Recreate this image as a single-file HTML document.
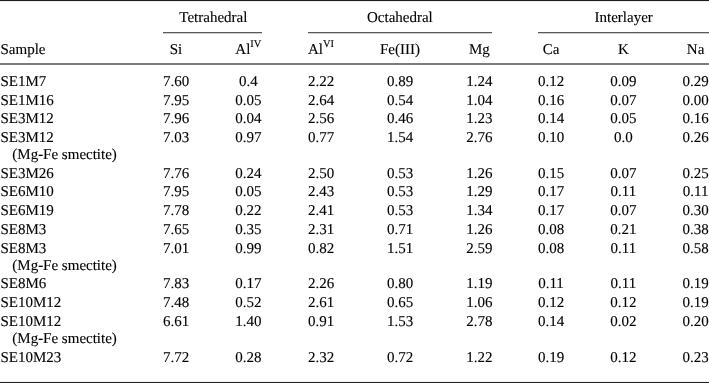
<!DOCTYPE html>
<html><head><meta charset="utf-8"><style>
html,body{margin:0;padding:0;background:#fff;}
body{width:709px;height:383px;position:relative;overflow:hidden;font-family:"Liberation Serif",serif;font-size:15px;color:#000;text-rendering:geometricPrecision;-webkit-text-stroke:0.12px #000;}
.t{position:absolute;height:0;line-height:0;white-space:nowrap;}
.t.c{width:200px;text-align:center;}
.t.r{width:200px;text-align:right;}
sup{font-size:10.5px;line-height:0;vertical-align:0;position:relative;top:-7px;}
.ln{position:absolute;}
#wrap{position:absolute;left:0;top:0;width:709px;height:383px;will-change:transform;}
</style></head><body><div id="wrap">
<div class="ln" style="left:0px;top:0px;width:709px;height:1px;background:#1c1c1c"></div><div class="ln" style="left:0px;top:1px;width:709px;height:1px;background:#f2f2f2"></div><div class="ln" style="left:163px;top:32px;width:99px;height:1px;background:#5a5a5a"></div><div class="ln" style="left:163px;top:33px;width:99px;height:1px;background:#cfcfcf"></div><div class="ln" style="left:308px;top:32px;width:184px;height:1px;background:#5a5a5a"></div><div class="ln" style="left:308px;top:33px;width:184px;height:1px;background:#cfcfcf"></div><div class="ln" style="left:538px;top:32px;width:171px;height:1px;background:#5a5a5a"></div><div class="ln" style="left:538px;top:33px;width:171px;height:1px;background:#cfcfcf"></div><div class="ln" style="left:0px;top:63px;width:709px;height:1px;background:#7c7c7c"></div><div class="ln" style="left:0px;top:64px;width:709px;height:1px;background:#7c7c7c"></div><div class="ln" style="left:0px;top:381px;width:709px;height:1px;background:#f2f2f2"></div><div class="ln" style="left:0px;top:382px;width:709px;height:1px;background:#222222"></div>
<div class="t" style="left:0.5px;top:82.00px;">SE1M7</div><div class="t c" style="left:76px;top:82.00px;">7.60</div><div class="t c" style="left:148.4px;top:82.00px;">0.4</div><div class="t c" style="left:221px;top:82.00px;">2.22</div><div class="t c" style="left:300px;top:82.00px;">0.89</div><div class="t c" style="left:379.3px;top:82.00px;">1.24</div><div class="t c" style="left:451px;top:82.00px;">0.12</div><div class="t c" style="left:523.4px;top:82.00px;">0.09</div><div class="t c" style="left:595.6px;top:82.00px;">0.29</div><div class="t" style="left:0.5px;top:100.50px;">SE1M16</div><div class="t c" style="left:76px;top:100.50px;">7.95</div><div class="t c" style="left:148.4px;top:100.50px;">0.05</div><div class="t c" style="left:221px;top:100.50px;">2.64</div><div class="t c" style="left:300px;top:100.50px;">0.54</div><div class="t c" style="left:379.3px;top:100.50px;">1.04</div><div class="t c" style="left:451px;top:100.50px;">0.16</div><div class="t c" style="left:523.4px;top:100.50px;">0.07</div><div class="t c" style="left:595.6px;top:100.50px;">0.00</div><div class="t" style="left:0.5px;top:119.20px;">SE3M12</div><div class="t c" style="left:76px;top:119.20px;">7.96</div><div class="t c" style="left:148.4px;top:119.20px;">0.04</div><div class="t c" style="left:221px;top:119.20px;">2.56</div><div class="t c" style="left:300px;top:119.20px;">0.46</div><div class="t c" style="left:379.3px;top:119.20px;">1.23</div><div class="t c" style="left:451px;top:119.20px;">0.14</div><div class="t c" style="left:523.4px;top:119.20px;">0.05</div><div class="t c" style="left:595.6px;top:119.20px;">0.16</div><div class="t" style="left:0.5px;top:138.20px;">SE3M12</div><div class="t c" style="left:76px;top:138.20px;">7.03</div><div class="t c" style="left:148.4px;top:138.20px;">0.97</div><div class="t c" style="left:221px;top:138.20px;">0.77</div><div class="t c" style="left:300px;top:138.20px;">1.54</div><div class="t c" style="left:379.3px;top:138.20px;">2.76</div><div class="t c" style="left:451px;top:138.20px;">0.10</div><div class="t c" style="left:523.4px;top:138.20px;">0.0</div><div class="t c" style="left:595.6px;top:138.20px;">0.26</div><div class="t" style="left:12.3px;top:155.00px;">(Mg-Fe smectite)</div><div class="t" style="left:0.5px;top:174.00px;">SE3M26</div><div class="t c" style="left:76px;top:174.00px;">7.76</div><div class="t c" style="left:148.4px;top:174.00px;">0.24</div><div class="t c" style="left:221px;top:174.00px;">2.50</div><div class="t c" style="left:300px;top:174.00px;">0.53</div><div class="t c" style="left:379.3px;top:174.00px;">1.26</div><div class="t c" style="left:451px;top:174.00px;">0.15</div><div class="t c" style="left:523.4px;top:174.00px;">0.07</div><div class="t c" style="left:595.6px;top:174.00px;">0.25</div><div class="t" style="left:0.5px;top:192.20px;">SE6M10</div><div class="t c" style="left:76px;top:192.20px;">7.95</div><div class="t c" style="left:148.4px;top:192.20px;">0.05</div><div class="t c" style="left:221px;top:192.20px;">2.43</div><div class="t c" style="left:300px;top:192.20px;">0.53</div><div class="t c" style="left:379.3px;top:192.20px;">1.29</div><div class="t c" style="left:451px;top:192.20px;">0.17</div><div class="t c" style="left:523.4px;top:192.20px;">0.11</div><div class="t c" style="left:595.6px;top:192.20px;">0.11</div><div class="t" style="left:0.5px;top:210.90px;">SE6M19</div><div class="t c" style="left:76px;top:210.90px;">7.78</div><div class="t c" style="left:148.4px;top:210.90px;">0.22</div><div class="t c" style="left:221px;top:210.90px;">2.41</div><div class="t c" style="left:300px;top:210.90px;">0.53</div><div class="t c" style="left:379.3px;top:210.90px;">1.34</div><div class="t c" style="left:451px;top:210.90px;">0.17</div><div class="t c" style="left:523.4px;top:210.90px;">0.07</div><div class="t c" style="left:595.6px;top:210.90px;">0.30</div><div class="t" style="left:0.5px;top:230.00px;">SE8M3</div><div class="t c" style="left:76px;top:230.00px;">7.65</div><div class="t c" style="left:148.4px;top:230.00px;">0.35</div><div class="t c" style="left:221px;top:230.00px;">2.31</div><div class="t c" style="left:300px;top:230.00px;">0.71</div><div class="t c" style="left:379.3px;top:230.00px;">1.26</div><div class="t c" style="left:451px;top:230.00px;">0.08</div><div class="t c" style="left:523.4px;top:230.00px;">0.21</div><div class="t c" style="left:595.6px;top:230.00px;">0.38</div><div class="t" style="left:0.5px;top:248.50px;">SE8M3</div><div class="t c" style="left:76px;top:248.50px;">7.01</div><div class="t c" style="left:148.4px;top:248.50px;">0.99</div><div class="t c" style="left:221px;top:248.50px;">0.82</div><div class="t c" style="left:300px;top:248.50px;">1.51</div><div class="t c" style="left:379.3px;top:248.50px;">2.59</div><div class="t c" style="left:451px;top:248.50px;">0.08</div><div class="t c" style="left:523.4px;top:248.50px;">0.11</div><div class="t c" style="left:595.6px;top:248.50px;">0.58</div><div class="t" style="left:12.3px;top:265.90px;">(Mg-Fe smectite)</div><div class="t" style="left:0.5px;top:284.30px;">SE8M6</div><div class="t c" style="left:76px;top:284.30px;">7.83</div><div class="t c" style="left:148.4px;top:284.30px;">0.17</div><div class="t c" style="left:221px;top:284.30px;">2.26</div><div class="t c" style="left:300px;top:284.30px;">0.80</div><div class="t c" style="left:379.3px;top:284.30px;">1.19</div><div class="t c" style="left:451px;top:284.30px;">0.11</div><div class="t c" style="left:523.4px;top:284.30px;">0.11</div><div class="t c" style="left:595.6px;top:284.30px;">0.19</div><div class="t" style="left:0.5px;top:303.00px;">SE10M12</div><div class="t c" style="left:76px;top:303.00px;">7.48</div><div class="t c" style="left:148.4px;top:303.00px;">0.52</div><div class="t c" style="left:221px;top:303.00px;">2.61</div><div class="t c" style="left:300px;top:303.00px;">0.65</div><div class="t c" style="left:379.3px;top:303.00px;">1.06</div><div class="t c" style="left:451px;top:303.00px;">0.12</div><div class="t c" style="left:523.4px;top:303.00px;">0.12</div><div class="t c" style="left:595.6px;top:303.00px;">0.19</div><div class="t" style="left:0.5px;top:321.50px;">SE10M12</div><div class="t c" style="left:76px;top:321.50px;">6.61</div><div class="t c" style="left:148.4px;top:321.50px;">1.40</div><div class="t c" style="left:221px;top:321.50px;">0.91</div><div class="t c" style="left:300px;top:321.50px;">1.53</div><div class="t c" style="left:379.3px;top:321.50px;">2.78</div><div class="t c" style="left:451px;top:321.50px;">0.14</div><div class="t c" style="left:523.4px;top:321.50px;">0.02</div><div class="t c" style="left:595.6px;top:321.50px;">0.20</div><div class="t" style="left:12.3px;top:339.10px;">(Mg-Fe smectite)</div><div class="t" style="left:0.5px;top:357.90px;">SE10M23</div><div class="t c" style="left:76px;top:357.90px;">7.72</div><div class="t c" style="left:148.4px;top:357.90px;">0.28</div><div class="t c" style="left:221px;top:357.90px;">2.32</div><div class="t c" style="left:300px;top:357.90px;">0.72</div><div class="t c" style="left:379.3px;top:357.90px;">1.22</div><div class="t c" style="left:451px;top:357.90px;">0.19</div><div class="t c" style="left:523.4px;top:357.90px;">0.12</div><div class="t c" style="left:595.6px;top:357.90px;">0.23</div><div class="t" style="left:0.5px;top:49.50px;">Sample</div><div class="t c" style="left:76px;top:49.50px;">Si</div><div class="t c" style="left:148.4px;top:49.50px;">Al<sup>IV</sup></div><div class="t c" style="left:221px;top:49.50px;">Al<sup>VI</sup></div><div class="t c" style="left:300px;top:49.50px;">Fe(III)</div><div class="t c" style="left:379.3px;top:49.50px;">Mg</div><div class="t c" style="left:451px;top:49.50px;">Ca</div><div class="t c" style="left:523.4px;top:49.50px;">K</div><div class="t c" style="left:595.6px;top:49.50px;">Na</div><div class="t c" style="left:113.4px;top:18.30px;">Tetrahedral</div><div class="t c" style="left:299.9px;top:18.30px;">Octahedral</div><div class="t c" style="left:523.7px;top:18.30px;">Interlayer</div>
</div></body></html>
